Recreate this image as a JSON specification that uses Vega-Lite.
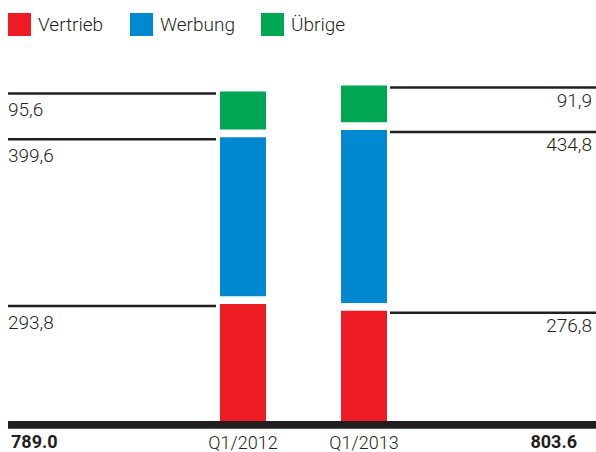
{
  "$schema": "https://vega.github.io/schema/vega-lite/v6.json",
  "width": 588,
  "height": 452,
  "padding": {"left": 8, "top": 0, "right": 0, "bottom": 0},
  "autosize": {"type": "none"},
  "background": "#ffffff",
  "datasets": {
    "segments": [
      {"quarter": "Q1/2012", "category": "Vertrieb", "value": 293.8},
      {"quarter": "Q1/2012", "category": "Werbung", "value": 399.6},
      {"quarter": "Q1/2012", "category": "Übrige", "value": 95.6},
      {"quarter": "Q1/2013", "category": "Vertrieb", "value": 276.8},
      {"quarter": "Q1/2013", "category": "Werbung", "value": 434.8},
      {"quarter": "Q1/2013", "category": "Übrige", "value": 91.9}
    ],
    "totals": [
      {"quarter": "Q1/2012", "total": 789.0},
      {"quarter": "Q1/2013", "total": 803.6}
    ]
  },
  "encoding": {
    "x": {
      "field": "quarter", "type": "nominal", "title": null,
      "scale": {"type": "band", "domain": ["Q1/2012", "Q1/2013"], "range": [212, 379], "paddingInner": 0.62, "paddingOuter": 0}
    }
  },
  "layer": [
    {
      "data": {"name": "segments"},
      "transform": [
        {"stack": "value", "groupby": ["quarter"], "sort": [{"field": "category", "order": "ascending"}], "as": ["bottom", "top"]},
        {"filter": "datum.category === 'Vertrieb'"},
        {"calculate": "replace(format(datum.value, '.1f'), '.', ',')", "as": "label"}
      ],
      "encoding": {
        "y": {"field": "top", "type": "quantitative", "axis": null,
              "scale": {"domain": [-77.89, 1057.79], "nice": false, "zero": false}}
      },
      "layer": [
        {
          "mark": {"type": "bar", "yOffset": 0, "y2Offset": 0},
          "encoding": {
            "y2": {"field": "bottom"},
            "color": {
              "field": "category", "type": "nominal",
              "scale": {"domain": ["Vertrieb", "Werbung", "Übrige"], "range": ["#ed1c24", "#0088d0", "#00a651"]},
              "legend": {"title": null}
            }
          }
        },
        {
          "mark": {"type": "rule", "strokeWidth": 7.6, "color": "#231f20", "yOffset": 3.8},
          "encoding": {
            "x": {"value": 0},
            "x2": {"value": "width"},
            "y": {"field": "bottom", "type": "quantitative", "axis": null,
                  "scale": {"domain": [-77.89, 1057.79], "nice": false, "zero": false}}
          }
        },
        {
          "mark": {"type": "text", "align": "center", "baseline": "alphabetic", "font": "Roboto", "fontWeight": 300, "fontSize": 18, "color": "#231f20", "yOffset": 28},
          "encoding": {
            "y": {"field": "bottom", "type": "quantitative", "axis": null,
                  "scale": {"domain": [-77.89, 1057.79], "nice": false, "zero": false}},
            "text": {"field": "quarter"}
          }
        },
        {
          "transform": [{"filter": "datum.quarter === 'Q1/2012'"}],
          "mark": {"type": "rule", "strokeWidth": 2.5, "color": "#231f20", "yOffset": 2, "xOffset": -4},
          "encoding": {
            "x": {"field": "quarter", "type": "nominal", "bandPosition": 0, "axis": null,
                  "scale": {"type": "band", "domain": ["Q1/2012", "Q1/2013"], "range": [212, 379], "paddingInner": 0.62, "paddingOuter": 0}},
            "x2": {"value": 0}
          }
        },
        {
          "transform": [{"filter": "datum.quarter === 'Q1/2013'"}],
          "mark": {"type": "rule", "strokeWidth": 2.5, "color": "#231f20", "yOffset": 2, "xOffset": 3},
          "encoding": {
            "x": {"field": "quarter", "type": "nominal", "bandPosition": 1, "axis": null,
                  "scale": {"type": "band", "domain": ["Q1/2012", "Q1/2013"], "range": [212, 379], "paddingInner": 0.62, "paddingOuter": 0}},
            "x2": {"value": "width"}
          }
        },
        {
          "transform": [{"filter": "datum.quarter === 'Q1/2012'"}],
          "mark": {"type": "text", "align": "left", "baseline": "alphabetic", "font": "Roboto", "fontWeight": 300, "fontSize": 19, "color": "#231f20", "yOffset": 24.5},
          "encoding": {"x": {"value": 0}, "text": {"field": "label"}}
        },
        {
          "transform": [{"filter": "datum.quarter === 'Q1/2013'"}],
          "mark": {"type": "text", "align": "right", "baseline": "alphabetic", "font": "Roboto", "fontWeight": 300, "fontSize": 19, "color": "#231f20", "yOffset": 21.5, "xOffset": -4},
          "encoding": {"x": {"value": "width"}, "text": {"field": "label"}}
        }
      ]
    },
    {
      "data": {"name": "segments"},
      "transform": [
        {"stack": "value", "groupby": ["quarter"], "sort": [{"field": "category", "order": "ascending"}], "as": ["bottom", "top"]},
        {"filter": "datum.category === 'Werbung'"},
        {"calculate": "replace(format(datum.value, '.1f'), '.', ',')", "as": "label"}
      ],
      "encoding": {
        "y": {"field": "top", "type": "quantitative", "axis": null,
              "scale": {"domain": [-77.89, 1057.79], "nice": false, "zero": false}}
      },
      "layer": [
        {
          "mark": {"type": "bar", "yOffset": -7.8, "y2Offset": -7.8},
          "encoding": {
            "y2": {"field": "bottom"},
            "color": {
              "field": "category", "type": "nominal",
              "scale": {"domain": ["Vertrieb", "Werbung", "Übrige"], "range": ["#ed1c24", "#0088d0", "#00a651"]},
              "legend": {"title": null}
            }
          }
        },
        {
          "transform": [{"filter": "datum.quarter === 'Q1/2012'"}],
          "mark": {"type": "rule", "strokeWidth": 2.5, "color": "#231f20", "yOffset": -5.8, "xOffset": -4},
          "encoding": {
            "x": {"field": "quarter", "type": "nominal", "bandPosition": 0, "axis": null,
                  "scale": {"type": "band", "domain": ["Q1/2012", "Q1/2013"], "range": [212, 379], "paddingInner": 0.62, "paddingOuter": 0}},
            "x2": {"value": 0}
          }
        },
        {
          "transform": [{"filter": "datum.quarter === 'Q1/2013'"}],
          "mark": {"type": "rule", "strokeWidth": 2.5, "color": "#231f20", "yOffset": -5.8, "xOffset": 3},
          "encoding": {
            "x": {"field": "quarter", "type": "nominal", "bandPosition": 1, "axis": null,
                  "scale": {"type": "band", "domain": ["Q1/2012", "Q1/2013"], "range": [212, 379], "paddingInner": 0.62, "paddingOuter": 0}},
            "x2": {"value": "width"}
          }
        },
        {
          "transform": [{"filter": "datum.quarter === 'Q1/2012'"}],
          "mark": {"type": "text", "align": "left", "baseline": "alphabetic", "font": "Roboto", "fontWeight": 300, "fontSize": 19, "color": "#231f20", "yOffset": 16.7},
          "encoding": {"x": {"value": 0}, "text": {"field": "label"}}
        },
        {
          "transform": [{"filter": "datum.quarter === 'Q1/2013'"}],
          "mark": {"type": "text", "align": "right", "baseline": "alphabetic", "font": "Roboto", "fontWeight": 300, "fontSize": 19, "color": "#231f20", "yOffset": 13.7, "xOffset": -4},
          "encoding": {"x": {"value": "width"}, "text": {"field": "label"}}
        }
      ]
    },
    {
      "data": {"name": "segments"},
      "transform": [
        {"stack": "value", "groupby": ["quarter"], "sort": [{"field": "category", "order": "ascending"}], "as": ["bottom", "top"]},
        {"filter": "datum.category === 'Übrige'"},
        {"calculate": "replace(format(datum.value, '.1f'), '.', ',')", "as": "label"}
      ],
      "encoding": {
        "y": {"field": "top", "type": "quantitative", "axis": null,
              "scale": {"domain": [-77.89, 1057.79], "nice": false, "zero": false}}
      },
      "layer": [
        {
          "mark": {"type": "bar", "yOffset": -15.6, "y2Offset": -15.6},
          "encoding": {
            "y2": {"field": "bottom"},
            "color": {
              "field": "category", "type": "nominal",
              "scale": {"domain": ["Vertrieb", "Werbung", "Übrige"], "range": ["#ed1c24", "#0088d0", "#00a651"]},
              "legend": {"title": null}
            }
          }
        },
        {
          "transform": [{"filter": "datum.quarter === 'Q1/2012'"}],
          "mark": {"type": "rule", "strokeWidth": 2.5, "color": "#231f20", "yOffset": -13.6, "xOffset": -4},
          "encoding": {
            "x": {"field": "quarter", "type": "nominal", "bandPosition": 0, "axis": null,
                  "scale": {"type": "band", "domain": ["Q1/2012", "Q1/2013"], "range": [212, 379], "paddingInner": 0.62, "paddingOuter": 0}},
            "x2": {"value": 0}
          }
        },
        {
          "transform": [{"filter": "datum.quarter === 'Q1/2013'"}],
          "mark": {"type": "rule", "strokeWidth": 2.5, "color": "#231f20", "yOffset": -13.6, "xOffset": 3},
          "encoding": {
            "x": {"field": "quarter", "type": "nominal", "bandPosition": 1, "axis": null,
                  "scale": {"type": "band", "domain": ["Q1/2012", "Q1/2013"], "range": [212, 379], "paddingInner": 0.62, "paddingOuter": 0}},
            "x2": {"value": "width"}
          }
        },
        {
          "transform": [{"filter": "datum.quarter === 'Q1/2012'"}],
          "mark": {"type": "text", "align": "left", "baseline": "alphabetic", "font": "Roboto", "fontWeight": 300, "fontSize": 19, "color": "#231f20", "yOffset": 8.9},
          "encoding": {"x": {"value": 0}, "text": {"field": "label"}}
        },
        {
          "transform": [{"filter": "datum.quarter === 'Q1/2013'"}],
          "mark": {"type": "text", "align": "right", "baseline": "alphabetic", "font": "Roboto", "fontWeight": 300, "fontSize": 19, "color": "#231f20", "yOffset": 5.9, "xOffset": -4},
          "encoding": {"x": {"value": "width"}, "text": {"field": "label"}}
        }
      ]
    },
    {
      "data": {"name": "totals"},
      "encoding": {
        "y": {"datum": 0, "type": "quantitative", "axis": null,
              "scale": {"domain": [-77.89, 1057.79], "nice": false, "zero": false}},
        "text": {"field": "total", "type": "quantitative", "format": ".1f"}
      },
      "layer": [
        {
          "transform": [{"filter": "datum.quarter === 'Q1/2012'"}],
          "mark": {"type": "text", "align": "left", "baseline": "alphabetic", "font": "Roboto", "fontWeight": 700, "fontSize": 18, "color": "#231f20", "yOffset": 27, "xOffset": 3},
          "encoding": {"x": {"value": 0}}
        },
        {
          "transform": [{"filter": "datum.quarter === 'Q1/2013'"}],
          "mark": {"type": "text", "align": "right", "baseline": "alphabetic", "font": "Roboto", "fontWeight": 700, "fontSize": 18, "color": "#231f20", "yOffset": 27, "xOffset": -19},
          "encoding": {"x": {"value": "width"}}
        }
      ]
    }
  ],
  "config": {
    "view": {"stroke": null},
    "axisX": {"disable": true},
    "legend": {
      "orient": "none", "legendX": 0, "legendY": 13, "direction": "horizontal",
      "padding": 0, "symbolType": "square", "symbolSize": 529, "symbolStrokeWidth": 0,
      "symbolOpacity": 1, "labelOffset": 7, "columnPadding": 26, "gridAlign": "each",
      "labelFont": "Roboto", "labelFontWeight": 300, "labelFontSize": 19, "labelColor": "#231f20"
    }
  }
}
